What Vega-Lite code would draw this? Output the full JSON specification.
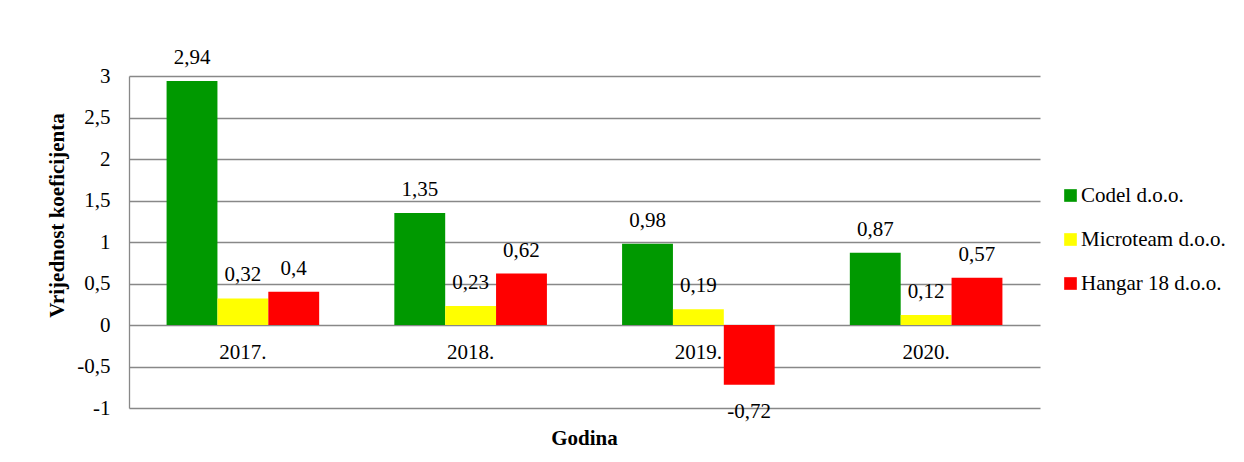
{
  "$schema": "https://vega.github.io/schema/vega-lite/v6.json",
  "width": 911,
  "height": 332,
  "autosize": {"type": "none"},
  "padding": {"left": 129, "top": 76, "right": 204, "bottom": 54},
  "background": "white",
  "config": {
    "locale": {"number": {"decimal": ",", "thousands": ".", "grouping": [3], "currency": ["", " €"], "minus": "-"}},
    "font": "Liberation Serif",
    "view": {"stroke": null},
    "axis": {"labelFont": "Liberation Serif", "titleFont": "Liberation Serif", "labelColor": "#000", "titleColor": "#000"},
    "legend": {"labelFont": "Liberation Serif"}
  },
  "data": {
    "values": [
      {"godina": "2017.", "tvrtka": "Codel d.o.o.", "vrijednost": 2.94},
      {"godina": "2017.", "tvrtka": "Microteam d.o.o.", "vrijednost": 0.32},
      {"godina": "2017.", "tvrtka": "Hangar 18 d.o.o.", "vrijednost": 0.4},
      {"godina": "2018.", "tvrtka": "Codel d.o.o.", "vrijednost": 1.35},
      {"godina": "2018.", "tvrtka": "Microteam d.o.o.", "vrijednost": 0.23},
      {"godina": "2018.", "tvrtka": "Hangar 18 d.o.o.", "vrijednost": 0.62},
      {"godina": "2019.", "tvrtka": "Codel d.o.o.", "vrijednost": 0.98},
      {"godina": "2019.", "tvrtka": "Microteam d.o.o.", "vrijednost": 0.19},
      {"godina": "2019.", "tvrtka": "Hangar 18 d.o.o.", "vrijednost": -0.72},
      {"godina": "2020.", "tvrtka": "Codel d.o.o.", "vrijednost": 0.87},
      {"godina": "2020.", "tvrtka": "Microteam d.o.o.", "vrijednost": 0.12},
      {"godina": "2020.", "tvrtka": "Hangar 18 d.o.o.", "vrijednost": 0.57}
    ]
  },
  "encoding": {
    "x": {
      "field": "godina", "type": "nominal", "sort": null,
      "scale": {"paddingInner": 0.33, "paddingOuter": 0.165},
      "axis": {
        "title": "Godina", "titleFontSize": 21, "titleFontWeight": "bold",
        "titleX": 455, "titleY": 113, "titleBaseline": "middle",
        "labelAngle": 0, "labelFontSize": 21, "labelPadding": 16,
        "domain": false, "ticks": false, "grid": false, "offset": -83
      }
    },
    "xOffset": {
      "field": "tvrtka", "type": "nominal",
      "sort": ["Codel d.o.o.", "Microteam d.o.o.", "Hangar 18 d.o.o."],
      "scale": {"paddingInner": 0, "paddingOuter": 0}
    },
    "y": {
      "field": "vrijednost", "type": "quantitative",
      "scale": {"domain": [-1, 3], "nice": false, "zero": false},
      "axis": {
        "title": "Vrijednost koeficijenta", "titleFontSize": 21, "titleFontWeight": "bold",
        "titleX": -72, "titleY": 139, "titleAlign": "center", "titleBaseline": "middle", "titleAngle": -90,
        "values": [-1, -0.5, 0, 0.5, 1, 1.5, 2, 2.5, 3], "format": "~g",
        "labelFontSize": 21, "labelPadding": 19, "ticks": false,
        "domain": true, "domainColor": "#888888", "domainWidth": 1.3,
        "grid": true, "gridColor": "#888888", "gridWidth": 1.3
      }
    }
  },
  "layer": [
    {
      "mark": {"type": "bar", "stroke": null},
      "encoding": {
        "color": {
          "field": "tvrtka", "type": "nominal",
          "sort": ["Codel d.o.o.", "Microteam d.o.o.", "Hangar 18 d.o.o."],
          "scale": {"domain": ["Codel d.o.o.", "Microteam d.o.o.", "Hangar 18 d.o.o."], "range": ["#009900", "#ffff00", "#ff0000"]},
          "legend": {
            "title": null, "orient": "none", "legendX": 931, "legendY": 109,
            "symbolType": "square", "symbolSize": 160, "symbolStrokeWidth": 0,
            "labelFontSize": 21, "labelFont": "Liberation Serif", "labelColor": "#000",
            "labelOffset": 0, "rowPadding": 22, "padding": 0
          }
        }
      }
    },
    {
      "transform": [{"filter": "datum.vrijednost >= 0"}],
      "mark": {"type": "text", "baseline": "middle", "align": "center", "dy": -23, "fontSize": 21, "font": "Liberation Serif", "color": "#000"},
      "encoding": {"text": {"field": "vrijednost", "type": "quantitative", "format": ".2~f"}}
    },
    {
      "transform": [{"filter": "datum.vrijednost < 0"}],
      "mark": {"type": "text", "baseline": "middle", "align": "center", "dy": 27, "fontSize": 21, "font": "Liberation Serif", "color": "#000"},
      "encoding": {"text": {"field": "vrijednost", "type": "quantitative", "format": ".2~f"}}
    }
  ]
}
